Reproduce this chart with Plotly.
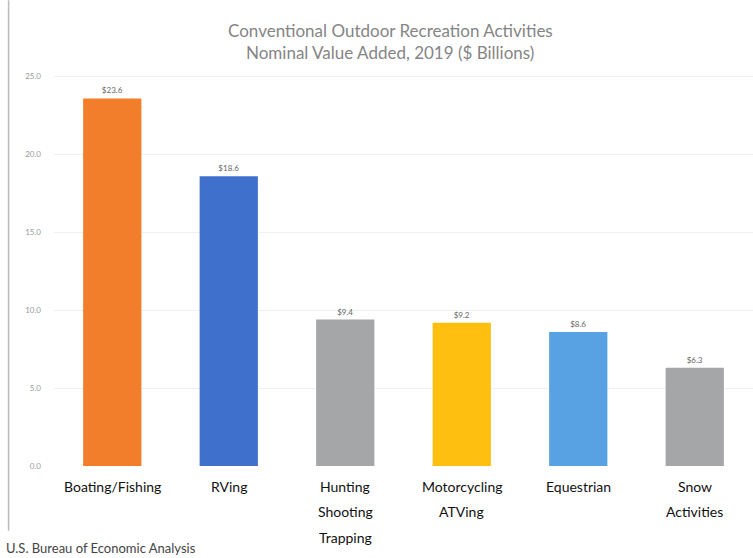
import plotly.graph_objects as go

categories = ["Boating/Fishing", "RVing", "Hunting<br>Shooting<br>Trapping",
              "Motorcycling<br>ATVing", "Equestrian", "Snow<br>Activities"]
values = [23.6, 18.6, 9.4, 9.2, 8.6, 6.3]
value_labels = ["$23.6", "$18.6", "$9.4", "$9.2", "$8.6", "$6.3"]
colors = ["#F27D2A", "#3F70CC", "#A5A6A8", "#FFBF10", "#58A2E4", "#A5A6A8"]
tick_vals = [0, 5, 10, 15, 20, 25]
tick_text = ["0.0", "5.0", "10.0", "15.0", "20.0", "25.0"]
title_lines = ["Conventional Outdoor Recreation Activities",
               "Nominal Value Added, 2019 ($ Billions)"]
source = "U.S. Bureau of Economic Analysis"

x_idx = list(range(len(categories)))

fig = go.Figure(go.Bar(
    x=x_idx, y=values, width=0.5,
    marker=dict(color=colors, line=dict(width=0)),
    text=value_labels, textposition="outside", cliponaxis=False,
    textfont=dict(size=8, color="#666", family="Lato"),
))

annotations = []
for i, lab in enumerate(categories):
    for j, line in enumerate(lab.split("<br>")):
        annotations.append(dict(
            x=i, y=0, xref="x", yref="y", text=line, showarrow=False,
            yshift=-20 - 25.5 * j, font=dict(size=14, color="#111", family="Lato"),
            xanchor="center", yanchor="middle"))
annotations.append(dict(x=0.481, y=1.0765, xref="paper", yref="paper", text=title_lines[0],
                        showarrow=False, font=dict(size=17, color="#858585", family="Lato"),
                        xanchor="center", yanchor="middle"))
annotations.append(dict(x=0.481, y=1.022, xref="paper", yref="paper", text=title_lines[1],
                        showarrow=False, font=dict(size=17, color="#858585", family="Lato"),
                        xanchor="center", yanchor="middle"))
annotations.append(dict(x=-0.0715, y=-0.202, xref="paper", yref="paper", text=source,
                        showarrow=False, font=dict(size=13, color="#444", family="Lato"),
                        xanchor="left", yanchor="middle"))

fig.update_layout(
    width=753, height=558,
    margin=dict(l=54, r=0, t=61, b=92),
    paper_bgcolor="white", plot_bgcolor="white",
    showlegend=False,
    annotations=annotations,
    xaxis=dict(range=[-0.5, 5.5], showticklabels=False, showgrid=False, zeroline=False,
               showline=False, ticks=""),
    yaxis=dict(range=[0, 26], tickvals=tick_vals, ticktext=tick_text,
               tickfont=dict(size=8, color="#999", family="Lato"),
               showgrid=True, gridcolor="#f0f0f0", gridwidth=1, zeroline=False,
               showline=False, ticks="", ticklabelstandoff=12),
    shapes=[dict(type="line", xref="paper", yref="paper",
                 x0=-0.065, x1=-0.065, y0=-0.16, y1=1.15,
                 line=dict(color="#bbbbbb", width=1.5))],
)

fig.write_html("out.html")
